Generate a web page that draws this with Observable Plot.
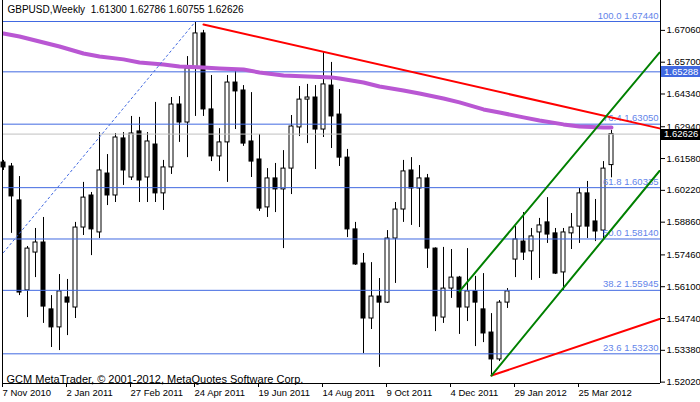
<!DOCTYPE html>
<html><head><meta charset="utf-8">
<script src="https://cdn.jsdelivr.net/npm/d3@7"></script>
<script src="https://cdn.jsdelivr.net/npm/@observablehq/plot@0.6"></script>
<style>body{margin:0;background:#fff;overflow:hidden}</style>
</head><body><div id="chart"></div>
<script>
// ---- data ----
const firstWeek = "2010-11-07";
const open = [1.6141,1.6124,1.5979,1.5594,1.5756,1.5799,1.5513,1.5436,1.5564,1.5521,
1.5863,1.6000,1.5842,1.6094,1.6000,1.6244,1.6077,1.6274,1.6077,1.6218,
1.6009,1.6120,1.6389,1.6312,1.6543,1.6693,1.6368,1.6167,1.6227,1.6483,
1.6449,1.6231,1.6154,1.5949,1.6073,1.6026,1.6115,1.6291,1.6410,1.6419,
1.6282,1.6470,1.6346,1.6162,1.5855,1.5709,1.5474,1.5568,1.5542,1.5816,
1.5940,1.6107,1.6030,1.6073,1.5773,1.5478,1.5602,1.5649,1.5521,1.5590,
1.5513,1.5414,1.5299,1.5542,1.5726,1.5803,1.5761,1.5842,1.5885,1.5838,
1.5671,1.5838,1.5867,1.6009,1.5889,1.5850,1.61300];
const high = [1.6150,1.6137,1.6081,1.5782,1.5859,1.5906,1.5572,1.5662,1.5641,1.5885,
1.6056,1.6013,1.6269,1.6175,1.6265,1.6269,1.6338,1.6334,1.6269,1.6398,
1.6150,1.6419,1.6423,1.6594,1.6744,1.6706,1.6513,1.6286,1.6513,1.6535,
1.6470,1.6440,1.6261,1.6115,1.6137,1.6192,1.6342,1.6466,1.6475,1.6470,
1.6611,1.6569,1.6453,1.6197,1.5885,1.5752,1.5713,1.5645,1.5850,1.5970,
1.6150,1.6162,1.6128,1.6090,1.5776,1.5778,1.5769,1.5654,1.5773,1.5654,
1.5666,1.5495,1.5551,1.5602,1.5867,1.5927,1.5859,1.5902,1.5991,1.5859,
1.5859,1.5923,1.6030,1.6060,1.5983,1.6145,1.62786];
const low = [1.6107,1.5838,1.5572,1.5478,1.5649,1.5453,1.5350,1.5337,1.5401,1.5474,
1.5829,1.5743,1.5816,1.5957,1.5970,1.6043,1.6064,1.5970,1.5970,1.5970,
1.5936,1.6090,1.6227,1.6162,1.6338,1.6338,1.6145,1.6103,1.6056,1.6282,
1.6210,1.6077,1.5932,1.5906,1.5927,1.5773,1.6004,1.6252,1.6222,1.6111,
1.6248,1.6201,1.6124,1.5820,1.5701,1.5324,1.5427,1.5265,1.5538,1.5624,
1.5885,1.5872,1.5863,1.5688,1.5418,1.5453,1.5560,1.5406,1.5461,1.5354,
1.5371,1.5230,1.5290,1.5517,1.5649,1.5722,1.5637,1.5645,1.5795,1.5662,
1.5594,1.5769,1.5795,1.5816,1.5803,1.5816,1.60755];
const close = [1.6120,1.5996,1.5585,1.5773,1.5799,1.5525,1.5436,1.5590,1.5542,1.5863,
1.5991,1.5855,1.6107,1.6000,1.6248,1.6107,1.6265,1.6064,1.6231,1.6009,
1.6120,1.6389,1.6312,1.6543,1.6693,1.6368,1.6167,1.6227,1.6483,1.6445,
1.6222,1.6145,1.5944,1.6073,1.6026,1.6115,1.6295,1.6410,1.6419,1.6282,
1.6475,1.6338,1.6162,1.5855,1.5705,1.5474,1.5568,1.5542,1.5816,1.5940,
1.6103,1.6030,1.6073,1.5773,1.5483,1.5602,1.5649,1.5521,1.5590,1.5542,
1.5410,1.5299,1.5542,1.5590,1.5812,1.5756,1.5825,1.5872,1.5833,1.5666,
1.5842,1.5863,1.6009,1.5867,1.5846,1.6115,1.62626];

// moving average (purple), sampled at bar indexes
const maWeek = [0,2,5,7,10,12,15,17,20,22,25,27,30,32,35,38,41,42,45,47,50,52,55,57,60,62,65,67,70,72,75,76];
const maValue = [1.6693,1.6680,1.6654,1.6637,1.6607,1.6594,1.6582,1.6569,1.6560,1.6552,1.6547,1.6543,1.6539,1.6526,1.6513,1.6509,1.6505,1.6500,1.6483,1.6466,1.6449,1.6436,1.6415,1.6398,1.6368,1.6355,1.6334,1.6321,1.6304,1.6295,1.6291,1.6291];

// Fibonacci retracement levels
const fibLevels = [1.67440, 1.63050, 1.60335, 1.58140, 1.55945, 1.53230];
const fibLabels = ["100.0 1.67440", "76.4 1.63050", "61.8 1.60335", "50.0 1.58140", "38.2 1.55945", "23.6 1.53230"];
const hLevel = 1.65288;
const lastPrice = 1.62626;

// trend lines: [bar index, price] endpoints
const redTop = [[25, 1.6731], [82, 1.6287]];
const redBottom = [[61, 1.5230], [82, 1.5472]];
const greenLow = [[61, 1.5230], [82, 1.6105]];
const greenHigh = [[57, 1.5590], [82, 1.6611]];
const fibDiag = [[0, 1.5756], [24, 1.6744]];

// axes
const yTicks = [1.67060, 1.65700, 1.64340, 1.62940, 1.61580, 1.60220, 1.58860, 1.57460, 1.56100, 1.54740, 1.53380, 1.52020];
const xTickDates = ["2010-11-07","2011-01-02","2011-02-27","2011-04-24","2011-06-19","2011-08-14","2011-10-09","2011-12-04","2012-01-29","2012-03-25"];
const title = "GBPUSD,Weekly  1.61300 1.62786 1.60755 1.62626";
const caption = "GCM MetaTrader, \u00A9 2001-2012, MetaQuotes Software Corp.";

// ---- chart ----
const WEEK = 7 * 864e5;
const t0 = new Date(firstWeek + "T00:00:00Z").getTime();
const barDate = k => new Date(t0 + k * WEEK);
const idx = d3.range(open.length);
const up = idx.filter(i => close[i] >= open[i]);
const dn = idx.filter(i => close[i] < open[i]);
const seg = pts => pts.map(([k, p]) => ({x: barDate(k), y: p}));
const months = ["Jan","Feb","Mar","Apr","May","Jun","Jul","Aug","Sep","Oct","Nov","Dec"];
const fmtDate = d => `${d.getUTCDate()} ${months[d.getUTCMonth()]} ${d.getUTCFullYear()}`;

const blue = "#4169e1";
const font = "'Liberation Sans', Arial, sans-serif";
const xDomain = [barDate(-0.125), barDate(82.125)];
const yDomain = [1.51961, 1.68338];

const plot = Plot.plot({
  width: 700, height: 402,
  marginLeft: 2, marginRight: 40, marginTop: 0, marginBottom: 19,
  style: {fontFamily: font, fontSize: "9.5px", color: "black", background: "white"},
  x: {type: "utc", domain: xDomain, label: null},
  y: {domain: yDomain, label: null},
  marks: [
    // candles
    Plot.ruleX(idx, {x: i => barDate(i), y1: i => low[i], y2: i => high[i], stroke: "black", strokeWidth: 1}),
    Plot.rect(dn, {x1: i => barDate(i), x2: i => barDate(i), y1: i => open[i], y2: i => close[i], fill: "black", stroke: "black", insetLeft: -2, insetRight: -2}),
    Plot.rect(up, {x1: i => barDate(i), x2: i => barDate(i), y1: i => open[i], y2: i => close[i], fill: "white", stroke: "black", insetLeft: -2, insetRight: -2}),
    // horizontal objects
    Plot.ruleY([lastPrice], {stroke: "#c0c0c0"}),
    Plot.ruleY(fibLevels, {stroke: blue}),
    Plot.ruleY([hLevel], {stroke: blue}),
    Plot.text(fibLevels, {y: d => d, text: (d, i) => fibLabels[i], frameAnchor: "right", textAnchor: "end", dx: -2, dy: -6, fill: "#6384ea", fontSize: 9.5}),
    // moving average
    Plot.line(maWeek.map((k, i) => ({x: barDate(k), y: maValue[i]})), {x: "x", y: "y", stroke: "#b957d3", strokeWidth: 4, clip: true}),
    // trend lines
    Plot.line(seg(redTop), {x: "x", y: "y", stroke: "#ff0000", strokeWidth: 2, clip: true}),
    Plot.line(seg(redBottom), {x: "x", y: "y", stroke: "#ff0000", strokeWidth: 2, clip: true}),
    Plot.line(seg(greenLow), {x: "x", y: "y", stroke: "#008000", strokeWidth: 2, clip: true}),
    Plot.line(seg(greenHigh), {x: "x", y: "y", stroke: "#008000", strokeWidth: 2, clip: true}),
    Plot.line(seg(fibDiag), {x: "x", y: "y", stroke: blue, strokeWidth: 1, strokeDasharray: "2,3", clip: true}),
    // frame: left, right, bottom
    Plot.ruleX(xDomain, {stroke: "black"}),
    Plot.ruleY([yDomain[0]], {stroke: "black"}),
    // axes
    Plot.axisY({anchor: "right", ticks: yTicks, tickFormat: d => d.toFixed(5), tickSize: 4, tickPadding: 2, fontSize: 9.5, label: null}),
    Plot.axisX({ticks: xTickDates.map(s => new Date(s + "T00:00:00Z")), tickFormat: fmtDate, tickSize: 4, tickPadding: 2, textAnchor: "start", dx: -1, fontSize: 9.5, label: null}),
    // texts
    Plot.text([title], {frameAnchor: "top-left", textAnchor: "start", lineAnchor: "top", dx: 5, dy: 5, fontSize: 10, fill: "black"}),
    Plot.text([caption], {frameAnchor: "bottom-left", textAnchor: "start", lineAnchor: "bottom", dx: 4, dy: -1, fontSize: 11, fill: "black"})
  ]
});

// price badges on the right axis
const ys = plot.scale("y");
const svg = d3.select(plot);
[[hLevel, blue], [lastPrice, "black"]].forEach(([v, c]) => {
  const yy = ys.apply(v);
  const g = svg.append("g").attr("text-anchor", "start");
  g.append("rect").attr("x", 661).attr("y", Math.round(yy) - 5).attr("width", 39).attr("height", 11).attr("fill", c);
  g.append("text").attr("x", 664).attr("y", yy).attr("dy", "0.35em").attr("fill", "white")
    .attr("text-anchor", "start").attr("font-family", font).attr("font-size", 9.5).text(v.toFixed(5));
});
document.getElementById("chart").appendChild(plot);
</script>
</body></html>
